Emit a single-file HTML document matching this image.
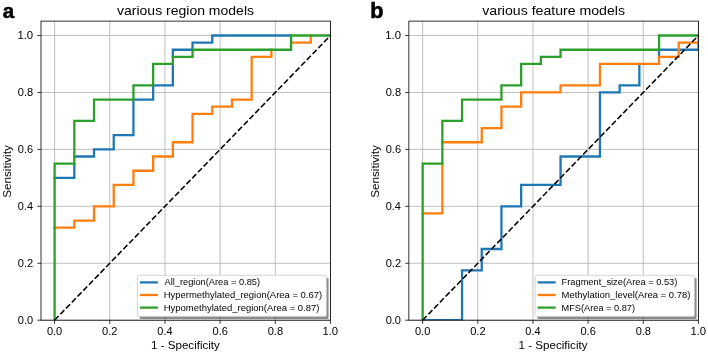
<!DOCTYPE html>
<html><head><meta charset="utf-8"><style>
html,body{margin:0;padding:0;background:#fff;overflow:hidden;}
svg{display:block;}
svg{will-change:transform;}
text{font-family:"Liberation Sans", sans-serif;fill:#000;}
</style></head><body>
<svg width="708" height="354" viewBox="0 0 708 354">
<rect width="708" height="354" fill="#fff"/>
<clipPath id="c0"><rect x="41" y="21.1" width="289.5" height="299.1"/></clipPath><path d="M54.6 21.1V320.2M41 320.2H330.5M109.78 21.1V320.2M41 263.26H330.5M164.96 21.1V320.2M41 206.32H330.5M220.14 21.1V320.2M41 149.38H330.5M275.32 21.1V320.2M41 92.44H330.5M330.5 21.1V320.2M41 35.5H330.5" stroke="#b0b0b0" stroke-width="0.8" fill="none"/><g clip-path="url(#c0)"><path d="M54.6 177.85 L74.31 177.85 L74.31 163.61M74.31 156.5 L94.01 156.5 L94.01 149.38 L113.72 149.38 L113.72 135.14 L133.43 135.14 L133.43 99.56 L153.14 99.56 L153.14 85.32 L172.84 85.32 L172.84 63.97M172.84 56.85 L172.84 49.74 L192.55 49.74 L192.55 42.62 L212.26 42.62 L212.26 35.5 L291.09 35.5" stroke="#1f77b4" stroke-width="2.3" fill="none" stroke-linecap="square"/><path d="M54.6 227.67 L74.31 227.67 L74.31 220.56 L94.01 220.56 L94.01 206.32 L113.72 206.32 L113.72 184.97 L133.43 184.97 L133.43 170.73 L153.14 170.73 L153.14 156.5 L172.84 156.5 L172.84 142.26 L192.55 142.26 L192.55 113.79 L212.26 113.79 L212.26 106.68 L231.96 106.68 L231.96 99.56 L251.67 99.56 L251.67 56.85 L271.38 56.85 L271.38 49.74M291.09 42.62 L310.79 42.62 L310.79 35.5" stroke="#ff7f0e" stroke-width="2.3" fill="none" stroke-linecap="square"/><path d="M54.6 320.2 L54.6 163.61 L74.31 163.61 L74.31 120.91 L94.01 120.91 L94.01 99.56 L133.43 99.56 L133.43 85.32 L153.14 85.32 L153.14 63.97 L172.84 63.97 L172.84 56.85 L192.55 56.85 L192.55 49.74 L291.09 49.74 L291.09 35.5 L330.5 35.5" stroke="#2ca02c" stroke-width="2.3" fill="none" stroke-linecap="square"/><path d="M54.6 320.2 L330.5 35.5" stroke="#000" stroke-width="1.55" stroke-dasharray="5.75 2.488" fill="none"/></g><path d="M54.6 320.2V323.8M41 320.2H37.4M109.78 320.2V323.8M41 263.26H37.4M164.96 320.2V323.8M41 206.32H37.4M220.14 320.2V323.8M41 149.38H37.4M275.32 320.2V323.8M41 92.44H37.4M330.5 320.2V323.8M41 35.5H37.4" stroke="#000" stroke-width="0.8" fill="none"/><rect x="41" y="21.1" width="289.5" height="299.1" stroke="#000" stroke-width="0.8" fill="none"/><rect x="139.6" y="277.9" width="189" height="41.1" rx="1.2" fill="#000" fill-opacity="0.45"/><rect x="137.4" y="275.3" width="189" height="41.1" rx="1.2" fill="#fff" stroke="#cccccc" stroke-width="0.85"/><path d="M139.9 282.4H157.9" stroke="#1f77b4" stroke-width="2.3"/><path d="M139.9 295H157.9" stroke="#ff7f0e" stroke-width="2.3"/><path d="M139.9 307.6H157.9" stroke="#2ca02c" stroke-width="2.3"/>
<clipPath id="c1"><rect x="408.85" y="21.1" width="289.6" height="299.1"/></clipPath><path d="M422.65 21.1V320.2M408.85 320.2H698.45M477.81 21.1V320.2M408.85 263.26H698.45M532.97 21.1V320.2M408.85 206.32H698.45M588.13 21.1V320.2M408.85 149.38H698.45M643.29 21.1V320.2M408.85 92.44H698.45M698.45 21.1V320.2M408.85 35.5H698.45" stroke="#b0b0b0" stroke-width="0.8" fill="none"/><g clip-path="url(#c1)"><path d="M422.65 320.2 L462.05 320.2 L462.05 270.38 L481.75 270.38 L481.75 249.02 L501.45 249.02 L501.45 206.32 L521.15 206.32 L521.15 184.97 L560.55 184.97 L560.55 156.5 L599.95 156.5 L599.95 92.44 L619.65 92.44 L619.65 85.32 L639.35 85.32 L639.35 63.97M659.05 56.85 L659.05 49.74 L698.45 49.74 L698.45 42.62" stroke="#1f77b4" stroke-width="2.3" fill="none" stroke-linecap="square"/><path d="M422.65 213.44 L442.35 213.44 L442.35 163.61M442.35 142.26 L481.75 142.26 L481.75 128.03 L501.45 128.03 L501.45 106.68 L521.15 106.68 L521.15 92.44 L560.55 92.44 L560.55 85.32 L599.95 85.32 L599.95 63.97 L659.05 63.97 L659.05 56.85 L678.75 56.85 L678.75 42.62 L698.45 42.62 L698.45 35.5" stroke="#ff7f0e" stroke-width="2.3" fill="none" stroke-linecap="square"/><path d="M422.65 320.2 L422.65 163.61 L442.35 163.61 L442.35 120.91 L462.05 120.91 L462.05 99.56 L501.45 99.56 L501.45 85.32 L521.15 85.32 L521.15 63.97 L540.85 63.97 L540.85 56.85 L560.55 56.85 L560.55 49.74 L659.05 49.74 L659.05 35.5 L698.45 35.5" stroke="#2ca02c" stroke-width="2.3" fill="none" stroke-linecap="square"/><path d="M422.65 320.2 L698.45 35.5" stroke="#000" stroke-width="1.55" stroke-dasharray="5.75 2.488" fill="none"/></g><path d="M422.65 320.2V323.8M408.85 320.2H405.25M477.81 320.2V323.8M408.85 263.26H405.25M532.97 320.2V323.8M408.85 206.32H405.25M588.13 320.2V323.8M408.85 149.38H405.25M643.29 320.2V323.8M408.85 92.44H405.25M698.45 320.2V323.8M408.85 35.5H405.25" stroke="#000" stroke-width="0.8" fill="none"/><rect x="408.85" y="21.1" width="289.6" height="299.1" stroke="#000" stroke-width="0.8" fill="none"/><rect x="537.4" y="277.9" width="159.2" height="41.1" rx="1.2" fill="#000" fill-opacity="0.45"/><rect x="535.2" y="275.3" width="159.2" height="41.1" rx="1.2" fill="#fff" stroke="#cccccc" stroke-width="0.85"/><path d="M537.7 282.4H555.7" stroke="#1f77b4" stroke-width="2.3"/><path d="M537.7 295H555.7" stroke="#ff7f0e" stroke-width="2.3"/><path d="M537.7 307.6H555.7" stroke="#2ca02c" stroke-width="2.3"/>
<text transform="translate(46.94 334.7) scale(1.0399 1)" font-size="10.6">0.0</text>
<text transform="translate(17.81 323.95) scale(1.0406 1)" font-size="10.6">0.0</text>
<text transform="translate(102.12 334.7) scale(1.0479 1)" font-size="10.6">0.2</text>
<text transform="translate(17.81 267.01) scale(1.0486 1)" font-size="10.6">0.2</text>
<text transform="translate(157.3 334.7) scale(1.0320 1)" font-size="10.6">0.4</text>
<text transform="translate(17.81 210.07) scale(1.0327 1)" font-size="10.6">0.4</text>
<text transform="translate(212.48 334.7) scale(1.0439 1)" font-size="10.6">0.6</text>
<text transform="translate(17.81 153.13) scale(1.0446 1)" font-size="10.6">0.6</text>
<text transform="translate(267.66 334.7) scale(1.0439 1)" font-size="10.6">0.8</text>
<text transform="translate(17.81 96.19) scale(1.0446 1)" font-size="10.6">0.8</text>
<text transform="translate(322.43 334.7) scale(1.0684 1)" font-size="10.6">1.0</text>
<text transform="translate(17.4 39.25) scale(1.0692 1)" font-size="10.6">1.0</text>
<text transform="translate(117.03 14.5) scale(1.1035 1)" font-size="12.7">various region models</text>
<text transform="translate(151.03 348.6) scale(1.1026 1)" font-size="10.5">1 - Specificity</text>
<text transform="translate(11.35 197.83) rotate(-90) scale(1.1150 1)" font-size="10.5">Sensitivity</text>
<text transform="translate(164.45 285.45) scale(1.0921 1)" font-size="8.5">All_region(Area = 0.85)</text>
<text transform="translate(163.74 298.05) scale(1.1124 1)" font-size="8.5">Hypermethylated_region(Area = 0.67)</text>
<text transform="translate(163.74 310.65) scale(1.1161 1)" font-size="8.5">Hypomethylated_region(Area = 0.87)</text>
<text transform="translate(414.99 334.7) scale(1.0399 1)" font-size="10.6">0.0</text>
<text transform="translate(385.66 323.95) scale(1.0406 1)" font-size="10.6">0.0</text>
<text transform="translate(470.15 334.7) scale(1.0479 1)" font-size="10.6">0.2</text>
<text transform="translate(385.66 267.01) scale(1.0486 1)" font-size="10.6">0.2</text>
<text transform="translate(525.31 334.7) scale(1.0320 1)" font-size="10.6">0.4</text>
<text transform="translate(385.66 210.07) scale(1.0327 1)" font-size="10.6">0.4</text>
<text transform="translate(580.47 334.7) scale(1.0439 1)" font-size="10.6">0.6</text>
<text transform="translate(385.66 153.13) scale(1.0446 1)" font-size="10.6">0.6</text>
<text transform="translate(635.63 334.7) scale(1.0439 1)" font-size="10.6">0.8</text>
<text transform="translate(385.66 96.19) scale(1.0446 1)" font-size="10.6">0.8</text>
<text transform="translate(690.38 334.7) scale(1.0684 1)" font-size="10.6">1.0</text>
<text transform="translate(385.25 39.25) scale(1.0692 1)" font-size="10.6">1.0</text>
<text transform="translate(482.23 14.6) scale(1.1121 1)" font-size="12.7">various feature models</text>
<text transform="translate(518.58 348.6) scale(1.1050 1)" font-size="10.5">1 - Specificity</text>
<text transform="translate(379.2 197.83) rotate(-90) scale(1.1150 1)" font-size="10.5">Sensitivity</text>
<text transform="translate(561.56 285.45) scale(1.0930 1)" font-size="8.5">Fragment_size(Area = 0.53)</text>
<text transform="translate(561.54 298.05) scale(1.1170 1)" font-size="8.5">Methylation_level(Area = 0.78)</text>
<text transform="translate(561.56 310.65) scale(1.0841 1)" font-size="8.5">MFS(Area = 0.87)</text>
<text transform="translate(2.78 18.2) scale(0.9793 1)" font-size="21" font-weight="bold" stroke="#000" stroke-width="0.55">a</text>
<text transform="translate(370.2 18.2) scale(0.9993 1)" font-size="21.6" font-weight="bold" stroke="#000" stroke-width="0.55">b</text>
</svg>
</body></html>
